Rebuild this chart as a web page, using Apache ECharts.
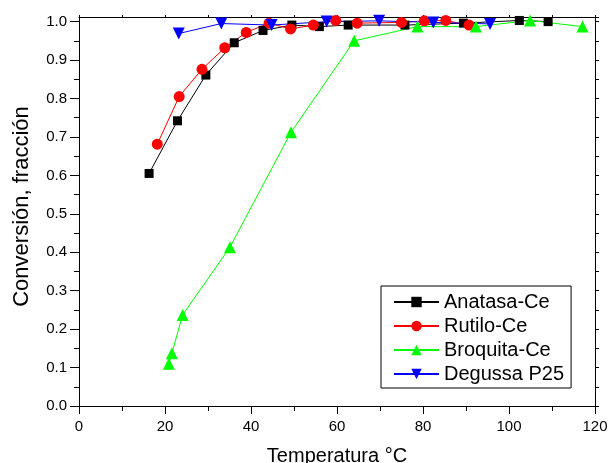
<!DOCTYPE html>
<html>
<head>
<meta charset="utf-8">
<script src="https://cdn.jsdelivr.net/npm/echarts@6/dist/echarts.min.js"></script>
<style>
  html, body { margin: 0; padding: 0; background: #fff; }
  #chart { width: 608px; height: 463px; }
</style>
</head>
<body>
<div id="chart"></div>
<script>
// Conversion vs temperature for the four Ce-doped TiO2 catalysts
const seriesNames = ['Anatasa-Ce', 'Rutilo-Ce', 'Broquita-Ce', 'Degussa P25'];

const anatasaX = [16.3, 22.9, 29.5, 36.1, 42.8, 49.5, 55.9, 62.6, 75.8, 89.4, 102.4, 109.1];
const anatasaY = [0.605, 0.742, 0.861, 0.945, 0.977, 0.991, 0.987, 0.991, 0.991, 0.996, 1.003, 1.0];

const rutiloX = [18.2, 23.3, 28.6, 33.9, 38.9, 44.2, 49.2, 54.5, 59.7, 64.7, 75.0, 80.3, 85.3, 90.7];
const rutiloY = [0.681, 0.805, 0.876, 0.932, 0.972, 0.996, 0.981, 0.991, 1.003, 0.996, 0.998, 1.002, 1.003, 0.991];

const broquitaX = [20.9, 21.6, 24.1, 35.1, 49.3, 64.0, 78.7, 92.3, 104.9, 117.1];
const broquitaY = [0.110, 0.137, 0.237, 0.413, 0.712, 0.950, 0.987, 0.987, 1.003, 0.987];

const degussaX = [23.2, 33.1, 44.8, 57.6, 69.8, 82.4, 95.6];
const degussaY = [0.969, 0.995, 0.991, 1.0, 1.002, 0.998, 0.994];

const yTickValues = [0, 0.1, 0.2, 0.3, 0.4, 0.5, 0.6, 0.7, 0.8, 0.9, 1.0];

const FONT = 'Liberation Sans, Arial, sans-serif';

function pairs(xs, ys) { return xs.map((x, i) => [x, ys[i]]); }

function lineSeries(name, xs, ys, color, symbol, size) {
  return {
    name: name,
    type: 'line',
    data: pairs(xs, ys),
    symbol: symbol,
    symbolSize: size,
    showAllSymbol: true,
    clip: false,
    lineStyle: { color: color, width: 1 },
    itemStyle: { color: color, borderWidth: 0 },
    emphasis: { disabled: true },
    animation: false
  };
}

const chart = echarts.init(document.getElementById('chart'), null, { renderer: 'canvas' });

chart.setOption({
  backgroundColor: '#ffffff',
  animation: false,
  grid: { left: 79, right: 13, top: 17, bottom: 57, outerBoundsMode: 'none', containLabel: false },
  legend: {
    orient: 'vertical',
    left: 381,
    top: 286,
    padding: [6, 7, 4, 12],
    itemGap: 4,
    itemWidth: 45,
    itemHeight: 13,
    borderColor: '#000',
    borderWidth: 1,
    backgroundColor: '#fff',
    textStyle: { fontFamily: FONT, fontSize: 20, color: '#000', lineHeight: 20 },
    data: seriesNames
  },
  xAxis: [
    {
      type: 'value',
      min: 0, max: 120, interval: 20,
      name: 'Temperatura °C',
      nameLocation: 'middle',
      nameGap: 40,
      nameTextStyle: { fontFamily: FONT, fontSize: 20, color: '#000' },
      axisLine: { show: true, onZero: false, lineStyle: { color: '#000', width: 1 } },
      axisTick: { show: true, inside: false, length: 8, lineStyle: { color: '#000' } },
      minorTick: { show: true, splitNumber: 2, length: 5, lineStyle: { color: '#000' } },
      axisLabel: { fontFamily: FONT, fontSize: 15, color: '#000', margin: 13 },
      splitLine: { show: false }
    },
    {
      type: 'value',
      position: 'top',
      min: 0, max: 120, interval: 10,
      axisLine: { show: true, onZero: false, lineStyle: { color: '#000', width: 1 } },
      axisTick: { show: true, inside: false, length: 2, lineStyle: { color: '#000' } },
      axisLabel: { show: false },
      splitLine: { show: false }
    }
  ],
  yAxis: [
    {
      type: 'value',
      min: 0, max: 1.012, interval: 0.1,
      name: 'Conversión, fracción',
      nameLocation: 'middle',
      nameRotate: 90,
      nameGap: 46,
      nameTextStyle: { fontFamily: FONT, fontSize: 22, color: '#000', padding: [0, 0, 0, 10] },
      axisLine: { show: true, onZero: false, lineStyle: { color: '#000', width: 1 } },
      axisTick: { show: true, inside: false, length: 9, customValues: yTickValues, lineStyle: { color: '#000' } },
      minorTick: { show: true, splitNumber: 2, length: 5, lineStyle: { color: '#000' } },
      axisLabel: {
        fontFamily: FONT, fontSize: 15, color: '#000', margin: 12,
        customValues: yTickValues,
        formatter: v => v.toFixed(1)
      },
      splitLine: { show: false }
    },
    {
      type: 'value',
      position: 'right',
      min: 0, max: 1.012, interval: 0.05,
      axisLine: { show: true, onZero: false, lineStyle: { color: '#000', width: 1 } },
      axisTick: { show: true, inside: false, length: 4, lineStyle: { color: '#000' } },
      axisLabel: { show: false },
      splitLine: { show: false }
    }
  ],
  series: [
    lineSeries(seriesNames[0], anatasaX, anatasaY, '#000000', 'rect', 9),
    lineSeries(seriesNames[1], rutiloX, rutiloY, '#ff0000', 'circle', 11),
    lineSeries(seriesNames[2], broquitaX, broquitaY, '#00ff00', 'triangle', 12),
    lineSeries(seriesNames[3], degussaX, degussaY, '#0000ff', 'path://M0,0 L10,0 L5,9 Z', 12)
  ]
});
</script>
</body>
</html>
